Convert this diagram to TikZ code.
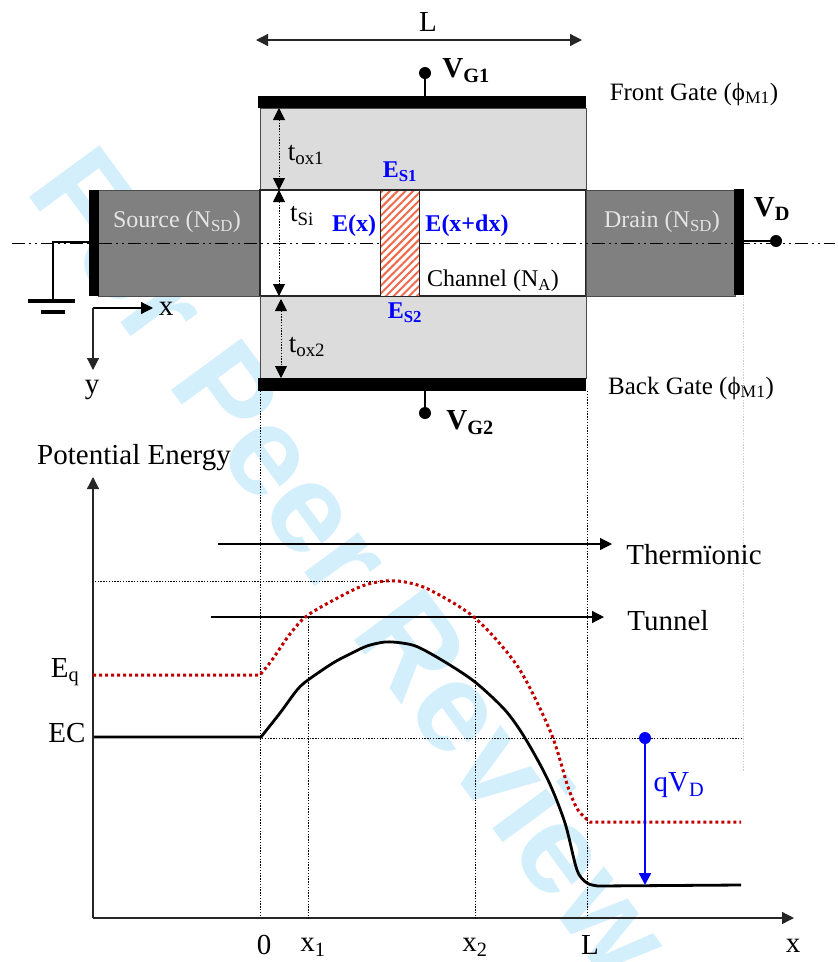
\documentclass[tikz,border=0pt]{standalone}
\usepackage{fontspec}
\setmainfont{Liberation Serif}
\newfontfamily\markfont{Liberation Sans}
\usetikzlibrary{positioning,arrows.meta,patterns.meta}
\definecolor{oxide}{HTML}{DCDCDC}
\definecolor{doped}{HTML}{808080}
\definecolor{hatchred}{HTML}{F0694A}
\definecolor{dotred}{HTML}{C00000}
\definecolor{wmark}{HTML}{D4EFFC}
\newcommand{\FontAt}[1]{\fontsize{#1}{#1}\selectfont}
\tikzset{
  txt/.style={inner sep=0pt,font=\FontAt{24}},
  gatetxt/.style={inner sep=0pt,font=\FontAt{25}},
  big/.style={inner sep=0pt,font=\FontAt{29}},
  thick27/.style={inner sep=0pt,font=\FontAt{27}},
  bluebf/.style={inner sep=0pt,blue,font=\FontAt{24}\bfseries},
  volt/.style={inner sep=0pt,font=\FontAt{29}\bfseries},
  ball/.style={circle,fill=black,inner sep=0pt,minimum size=12pt},
  arr/.style={-{Triangle[length=12pt,width=12pt]}},
  twoarr/.style={{Triangle[length=12pt,width=12pt]}-{Triangle[length=12pt,width=12pt]}},
  fine/.style={dash pattern=on 1.4pt off 1.4pt,line width=0.9pt},
}
\begin{document}
\begin{tikzpicture}[x=1pt,y=-1pt]
\useasboundingbox (0,0) rectangle (838,962);

% watermark
\begin{scope}
\clip (0,0) rectangle (838,962);
\node[inner sep=0pt,anchor=base west,rotate=-53.7,text=wmark,font=\FontAt{127}\markfont\bfseries] (wm) at (24,190) {For Peer Review};
\end{scope}

% oxide, source and drain
\draw[fill=oxide,draw=black!70,line width=1pt] (260,108) rectangle (586,190);
\draw[fill=oxide,draw=black!70,line width=1pt] (260,296) rectangle (586,378);
\draw[fill=white,draw=black!85,line width=1.2pt] (260,190) rectangle (586,296);
\draw[fill=doped,draw=black!70,line width=1pt] (98,190) rectangle (260,296);
\draw[fill=doped,draw=black!70,line width=1pt] (586,190) rectangle (735,296);
\draw[black!85,line width=1.6pt] (260,190) -- (260,296);

% gates and contacts
\fill (258,96) rectangle (586,108);
\fill (258,378) rectangle (586,391);
\fill (89,190) rectangle (99,296);
\fill (734,189) rectangle (744,295);

% center line
\draw[line width=1pt,dash pattern=on 13pt off 4pt on 2pt off 4pt on 2pt off 4pt] (12,243) -- (835,243);

% hatched slice
\fill[white] (380,190) rectangle (419,296);
\fill[pattern={Lines[angle=45,distance=5.5pt,line width=2pt]},pattern color=hatchred] (380,190) rectangle (419,296);
\draw[black!85,line width=1pt] (380,190) rectangle (419,296);

% length arrow
\coordinate (Lleft) at (256,40);
\coordinate (Lright) at (582,40);
\draw[twoarr,line width=1.3pt,black!85] (Lleft) -- (Lright);
\node[big] (Ltop) at (428,22) {L};

% thickness arrows
\foreach \xa/\ya/\yb in {279/108/190,279/190/296,281/299/378}
\draw[twoarr,fine] (\xa,\ya) -- (\xa,\yb);
\node[thick27] (tox1) at (306,155) {t\textsubscript{ox1}};
\node[thick27] (tsi) at (302,216) {t\textsubscript{Si}};
\node[thick27] (tox2) at (307,347) {t\textsubscript{ox2}};

% gate and drain terminals
\node[ball] (vg1dot) at (425,73) {};
\node[ball] (vg2dot) at (425,413) {};
\node[ball] (vddot) at (776,241) {};
\coordinate (vg1pin) at (425,96);
\coordinate (vg2pin) at (425,391);
\coordinate (vdpin) at (744,241);
\draw[line width=1.5pt] (vg1dot) -- (vg1pin);
\draw[line width=1.5pt] (vg2dot) -- (vg2pin);
\draw[line width=2pt] (vddot) -- (vdpin);
\node[volt] (vg1) at (466,71) {V\textsubscript{G1}};
\node[volt] (vg2) at (470,423) {V\textsubscript{G2}};
\node[volt] (vd) at (772,209) {V\textsubscript{D}};

% ground
\coordinate (srcpin) at (89,242);
\coordinate (gndbend) at (53,242);
\coordinate (gndend) at (53,301);
\draw[line width=2pt] (srcpin) -- (gndbend) -- (gndend);
\draw[line width=3.5pt] (28,301) -- (75,301);
\draw[line width=3.5pt] (41,312) -- (65,312);

% small axes
\coordinate (orig) at (93,308);
\coordinate (xtip) at (153,308);
\coordinate (ytip) at (93,370);
\draw[arr,line width=1.2pt] (orig) -- (xtip);
\draw[arr,line width=1.2pt,black!85] (orig) -- (ytip);
\node[big] (xsmall) at (166,309) {x};
\node[big] (ysmall) at (92,390) {y};

% device labels
\node[txt,text=white!90!black] (src) at (177,222) {Source (N\textsubscript{SD})};
\node[txt,text=white!90!black] (drn) at (662,222) {Drain (N\textsubscript{SD})};
\node[txt] (chn) at (493,281) {Channel (N\textsubscript{A})};
\node[gatetxt] (fg) at (694,94) {Front Gate (ϕ\textsubscript{M1})};
\node[gatetxt] (bg) at (691,388) {Back Gate (ϕ\textsubscript{M1})};
\node[bluebf] (es1) at (400,172) {E\textsubscript{S1}};
\node[bluebf] (es2) at (405,313) {E\textsubscript{S2}};
\node[bluebf] (ex) at (354,226) {E(x)};
\node[bluebf] (exdx) at (467,226) {E(x+dx)};

% plot axes
\coordinate (porig) at (93,918);
\coordinate (ptop) at (93,477);
\coordinate (pright) at (794,918);
\draw[arr,line width=1.3pt,black!85] (porig) -- (ptop);
\draw[arr,line width=1.3pt,black!85] (porig) -- (pright);

% dotted guides
\foreach \x/\ya/\yb in {260/391/915,587/391/918,308/618/918,475/618/918}
\draw[fine] (\x,\ya) -- (\x,\yb);
\draw[fine,black!20] (743,296) -- (743,772);
\draw[fine] (92,581) -- (390,581);
\draw[fine] (262,738) -- (743,738);

% carrier arrows
\coordinate (thA) at (218,544);
\coordinate (thB) at (612,544);
\coordinate (tuA) at (211,617);
\coordinate (tuB) at (604,617);
\draw[arr,line width=1.2pt] (thA) -- (thB);
\draw[arr,line width=1.2pt] (tuA) -- (tuB);

% curves
\draw[dotred,line width=3pt,dash pattern=on 3pt off 3pt] (93,675) -- (260,675) -- plot[smooth,tension=0.5] coordinates {(260,675) (272,660) (290,634) (308,615) (345,594) (365,585) (385,581) (405,582) (430,590) (475,618) (518,667) (551,733) (568,787) (578,810) (590,822)} -- (741,822);
\draw[line width=2.8pt] (94,737) -- (261,737) -- plot[smooth,tension=0.5] coordinates {(261,737) (280,713) (297,690) (308,680) (333,663) (350,654) (367,646) (385,642) (402,643) (418,647) (445,662) (475,682) (505,710) (525,738) (548,780) (565,823) (577,870) (587,883) (598,886)} -- (741,885);

% qVD arrow
\node[circle,fill=blue,inner sep=0pt,minimum size=12pt] (qtop) at (645,738) {};
\coordinate (qbot) at (645,885);
\draw[arr,blue,line width=2.4pt] (qtop) -- (qbot);
\node[big,blue] (qvd) at (679,785) {qV\textsubscript{D}};

% plot labels
\node[big] (pe) at (134,458) {Potential Energy};
\node[big] (therm) at (694,555) {Thermïonic};
\node[big] (tun) at (668,621) {Tunnel};
\node[big] (eq) at (65,672) {E\textsubscript{q}};
\node[big] (ec) at (67,733) {EC};
\node[big] (zero) at (264,945) {0};
\node[big] (x1) at (313,947) {x\textsubscript{1}};
\node[big] (x2) at (475,947) {x\textsubscript{2}};
\node[big] (Lbot) at (590,945) {L};
\node[big] (xbig) at (793,946) {x};
\end{tikzpicture}
\end{document}
